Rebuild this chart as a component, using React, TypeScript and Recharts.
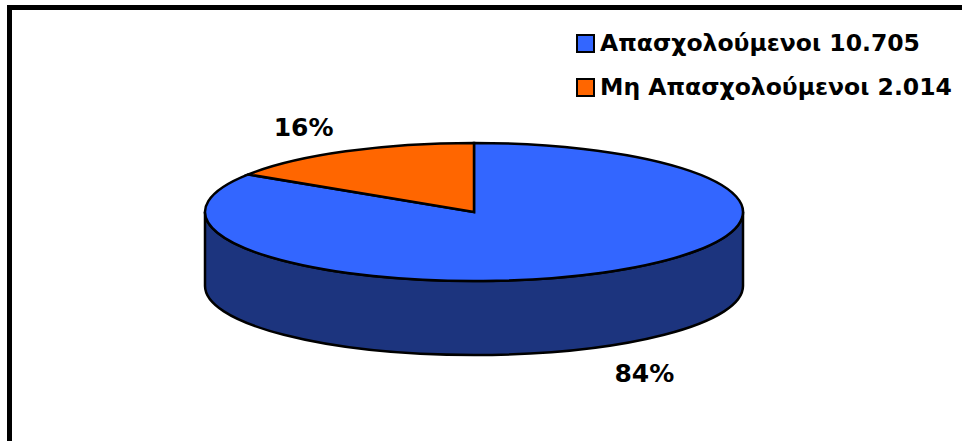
import { Legend, Pie, PieChart } from 'recharts'

const categories = ['Απασχολούμενοι', 'Μη Απασχολούμενοι']
const counts = [10705, 2014]
const countLabels = ['10.705', '2.014']
const topColors = ['#3366FF', '#FF6600']
const sideColors = ['#1C347E', '#993D00']

const chartData = categories.map((name, i) => ({ name, value: counts[i] }))

// flattening of the pie into an ellipse, and the height of its side wall
const SQUASH = 69 / 269
const DEPTH = 74
const RAD = Math.PI / 180

function pt(cx: number, cy: number, rx: number, ry: number, a: number) {
    return [cx + rx * Math.cos(a * RAD), cy - ry * Math.sin(a * RAD)]
}

interface SectorProps {
    cx: number
    cy: number
    outerRadius: number
    startAngle: number
    endAngle: number
    index?: number
    payload?: { name: string }
}

function colorIndex(props: SectorProps) {
    const i = categories.indexOf(props.payload?.name ?? '')
    return i < 0 ? 0 : i
}

function TopSector(props: SectorProps) {
    const { cx, cy, outerRadius, startAngle, endAngle } = props
    const rx = outerRadius
    const ry = outerRadius * SQUASH
    const [x1, y1] = pt(cx, cy, rx, ry, startAngle)
    const [x2, y2] = pt(cx, cy, rx, ry, endAngle)
    const large = Math.abs(startAngle - endAngle) > 180 ? 1 : 0
    const sweep = startAngle > endAngle ? 1 : 0
    const d = `M${cx},${cy} L${x1},${y1} A${rx},${ry} 0 ${large} ${sweep} ${x2},${y2} Z`
    return (
        <path
            d={d}
            fill={topColors[colorIndex(props)]}
            stroke="#000"
            strokeWidth={2.5}
            strokeLinejoin="miter"
        />
    )
}

function SideSector(props: SectorProps) {
    const { cx, cy, outerRadius, startAngle, endAngle } = props
    const rx = outerRadius
    const ry = outerRadius * SQUASH
    const lo = Math.min(startAngle, endAngle)
    const hi = Math.max(startAngle, endAngle)
    const parts: JSX.Element[] = []
    // the front half of the rim is where the angle is between 180 and 360 degrees
    for (let k = -2; k <= 1; k++) {
        const a1 = Math.max(lo, -180 + 360 * k)
        const a2 = Math.min(hi, 360 * k)
        if (a2 - a1 <= 0.01) { continue }
        const [xa, ya] = pt(cx, cy, rx, ry, a2)
        const [xb, yb] = pt(cx, cy, rx, ry, a1)
        const large = a2 - a1 > 180 ? 1 : 0
        const d = `M${xa},${ya} A${rx},${ry} 0 ${large} 1 ${xb},${yb} L${xb},${yb + DEPTH} A${rx},${ry} 0 ${large} 0 ${xa},${ya + DEPTH} Z`
        parts.push(
            <path
                key={k}
                d={d}
                fill={sideColors[colorIndex(props)]}
                stroke="#000"
                strokeWidth={2.5}
            />
        )
    }
    return <g>{parts}</g>
}

interface LabelProps {
    cx: number
    cy: number
    midAngle: number
    outerRadius: number
    percent: number
}

function renderLabel({ cx, cy, midAngle, outerRadius, percent }: LabelProps) {
    const s = Math.sin(midAngle * RAD)
    const c = Math.cos(midAngle * RAD)
    const x = cx + (outerRadius + 88) * c
    let y = cy - (outerRadius * SQUASH + 27) * s
    if (s < 0) { y += DEPTH + 3 }
    return (
        <text
            x={x}
            y={y}
            textAnchor="middle"
            dominantBaseline="central"
            fill="#000"
            fontFamily="DejaVu Sans, Verdana, sans-serif"
            fontWeight="bold"
            fontSize={25}
        >
            {`${Math.round(percent * 100)}%`}
        </text>
    )
}

function renderLegend() {
    return (
        <div style={{ fontFamily: 'DejaVu Sans, Verdana, sans-serif', fontWeight: 'bold', fontSize: 23.5, color: '#000' }}>
            {categories.map((name, i) => (
                <div key={name} style={{ display: 'flex', alignItems: 'center', height: 44 }}>
                    <span
                        style={{
                            display: 'inline-block',
                            width: 15,
                            height: 15,
                            background: topColors[i],
                            border: '2px solid #000',
                            marginRight: 5,
                        }}
                    />
                    <span>{`${name} ${countLabels[i]}`}</span>
                </div>
            ))}
        </div>
    )
}

export default function App() {
    return (
        <div style={{ position: 'absolute', left: 0, top: 0, width: 962, height: 441, background: '#fff', overflow: 'hidden' }}>
            <div
                style={{
                    position: 'absolute',
                    left: 7,
                    top: 5,
                    width: 1000,
                    height: 500,
                    border: '5px solid #000',
                }}
            />
            <div style={{ position: 'absolute', left: 0, top: 0 }}>
                <PieChart width={962} height={441} margin={{ top: 0, right: 0, bottom: 0, left: 0 }}>
                    <Pie
                        data={chartData}
                        dataKey="value"
                        nameKey="name"
                        cx={474}
                        cy={212}
                        outerRadius={269}
                        startAngle={90}
                        endAngle={-270}
                        stroke="none"
                        shape={SideSector}
                        inactiveShape={SideSector}
                        activeShape={SideSector}
                        legendType="none"
                        isAnimationActive={false}
                    />
                    <Pie
                        data={chartData}
                        dataKey="value"
                        nameKey="name"
                        cx={474}
                        cy={212}
                        outerRadius={269}
                        startAngle={90}
                        endAngle={-270}
                        stroke="none"
                        shape={TopSector}
                        inactiveShape={TopSector}
                        activeShape={TopSector}
                        label={renderLabel}
                        labelLine={false}
                        isAnimationActive={false}
                    />
                    <Legend
                        content={renderLegend}
                        layout="vertical"
                        verticalAlign="top"
                        align="right"
                        wrapperStyle={{ position: 'absolute', left: 576, top: 21, width: 390 }}
                    />
                </PieChart>
            </div>
        </div>
    )
}
